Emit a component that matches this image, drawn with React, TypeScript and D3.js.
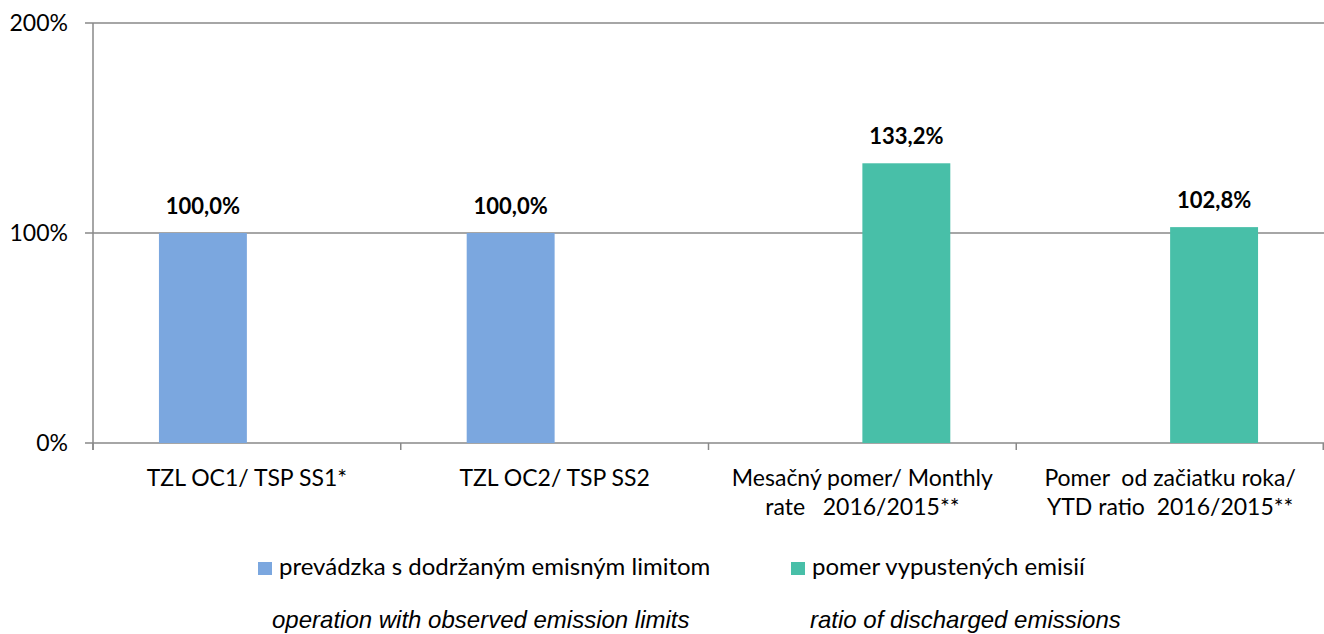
import React from "react";
import * as d3 from "d3";

const categories: string[][] = [
  ["TZL OC1/ TSP SS1*"],
  ["TZL OC2/ TSP SS2"],
  ["Mesačný pomer/ Monthly", "rate   2016/2015**"],
  ["Pomer  od začiatku roka/", "YTD ratio  2016/2015**"],
];
const seriesNames = ["prevádzka s dodržaným emisným limitom", "pomer vypustených emisií"];
const seriesNotes = ["operation with observed emission limits", "ratio of discharged emissions"];
const complianceValues: (number | null)[] = [100, 100, null, null];
const ratioValues: (number | null)[] = [null, null, 133.2, 102.8];
const yTicks = [0, 100, 200];
const colors = ["#7BA7DF", "#48BFA8"];

const W = 1324;
const H = 634;
const left = 93;
const right = 1324;
const top = 23;
const bottom = 443;
const font = "Lato, 'Open Sans', sans-serif";

const App: React.FC = () => {
  const x0 = d3.scaleBand<number>().domain(d3.range(categories.length)).range([left, right]).padding(0);
  const x1 = d3
    .scaleBand<number>()
    .domain([0, 1])
    .range([0, x0.bandwidth()])
    .paddingInner(0)
    .paddingOuter(0.75);
  const y = d3.scaleLinear().domain([0, 200]).range([bottom, top]);
  const series = [complianceValues, ratioValues];
  const fmt = (v: number) => v.toFixed(1).replace(".", ",") + "%";

  return (
    <svg width={W} height={H} style={{ position: "absolute", left: 0, top: 0, display: "block" }}>
      <rect width={W} height={H} fill="#fff" />
      {/* grid + y ticks */}
      {yTicks.map((t) => (
        <g key={t}>
          <line x1={left - 8} x2={right} y1={y(t)} y2={y(t)} stroke="#898989" strokeWidth={1.5} />
          <text x={68} y={y(t) + 8} textAnchor="end" fontFamily={font} fontSize={23} fill="#000">
            {t}%
          </text>
        </g>
      ))}
      <line x1={left} x2={left} y1={top} y2={bottom + 7} stroke="#898989" strokeWidth={1.5} />
      {d3.range(categories.length + 1).map((i) => {
        const xx = i < categories.length ? x0(i)! : right - 0.75;
        return <line key={i} x1={xx} x2={xx} y1={bottom} y2={bottom + 7} stroke="#898989" strokeWidth={1.5} />;
      })}
      {/* bars */}
      {series.map((vals, s) =>
        vals.map((v, i) =>
          v == null ? null : (
            <g key={s + "-" + i}>
              <rect
                x={x0(i)! + x1(s)!}
                y={y(v)}
                width={x1.bandwidth()}
                height={y(0) - y(v)}
                fill={colors[s]}
              />
              <text
                x={x0(i)! + x1(s)! + x1.bandwidth() / 2}
                y={y(v) - 19}
                textAnchor="middle"
                fontFamily={font}
                fontWeight="bold"
                fontSize={22}
                fill="#000"
              >
                {fmt(v)}
              </text>
            </g>
          )
        )
      )}
      {/* category labels */}
      {categories.map((lines, i) => (
        <text
          key={i}
          x={x0(i)! + x0.bandwidth() / 2}
          textAnchor="middle"
          fontFamily={font}
          fontSize={23}
          fill="#000"
        >
          {lines.map((l, k) => (
            <tspan key={k} x={x0(i)! + x0.bandwidth() / 2} y={486 + k * 29} style={{ whiteSpace: "pre" }}>
              {l}
            </tspan>
          ))}
        </text>
      ))}
      {/* legend */}
      {seriesNames.map((name, s) => {
        const lx = s === 0 ? 258 : 791;
        const nx = s === 0 ? 272 : 810;
        return (
          <g key={name}>
            <rect x={lx} y={562} width={14} height={13} fill={colors[s]} />
            <text x={lx + 21} y={575} fontFamily={font} fontSize={24} fill="#000">
              {name}
            </text>
            <text x={nx} y={628} fontFamily="'Liberation Sans', Arial, sans-serif" fontStyle="italic" fontSize={24} fill="#000">
              {seriesNotes[s]}
            </text>
          </g>
        );
      })}
    </svg>
  );
};

export default App;
